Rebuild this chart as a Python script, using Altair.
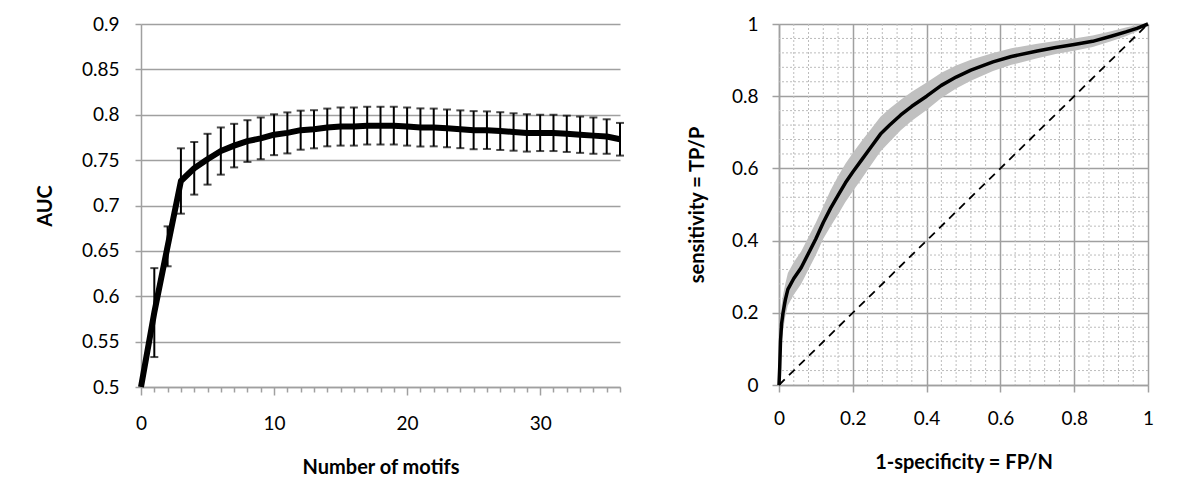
import altair as alt
import pandas as pd

# ---------------- data: left panel (AUC vs number of motifs) ----------------
motifs = list(range(0, 37))
auc_mean = [0.500, 0.582, 0.655, 0.727, 0.741, 0.751, 0.760, 0.766, 0.771, 0.774,
            0.778, 0.780, 0.783, 0.784, 0.786, 0.787, 0.787, 0.788, 0.788, 0.788,
            0.787, 0.786, 0.786, 0.785, 0.784, 0.783, 0.783, 0.782, 0.781, 0.780,
            0.780, 0.780, 0.779, 0.778, 0.777, 0.776, 0.773]
auc_err = [0.000, 0.049, 0.022, 0.036, 0.029, 0.028, 0.026, 0.024, 0.023, 0.023,
           0.0225, 0.0226, 0.0215, 0.021, 0.0208, 0.021, 0.021, 0.0208, 0.0208, 0.0208,
           0.021, 0.021, 0.0208, 0.0208, 0.0208, 0.021, 0.0207, 0.0208, 0.0206, 0.0206,
           0.020, 0.020, 0.020, 0.020, 0.020, 0.019, 0.018]
auc_y_ticks = [0.5, 0.55, 0.6, 0.65, 0.7, 0.75, 0.8, 0.85, 0.9]
motif_x_ticks = list(range(0, 37))

# ---------------- data: right panel (ROC curve) ----------------
roc_fpr = [0, 0.002, 0.004, 0.007, 0.011, 0.017, 0.024, 0.04, 0.06, 0.08, 0.10, 0.12,
           0.14, 0.16, 0.18, 0.20, 0.225, 0.25, 0.275, 0.30, 0.33, 0.36, 0.40, 0.44,
           0.48, 0.52, 0.58, 0.63, 0.70, 0.75, 0.80, 0.85, 0.90, 0.94, 0.97, 1.0]
roc_tpr = [0, 0.05, 0.12, 0.17, 0.20, 0.235, 0.265, 0.295, 0.325, 0.365, 0.405, 0.45,
           0.49, 0.525, 0.56, 0.59, 0.625, 0.66, 0.695, 0.72, 0.748, 0.772, 0.80, 0.83,
           0.853, 0.872, 0.895, 0.91, 0.925, 0.935, 0.943, 0.952, 0.966, 0.978, 0.988, 1.0]
roc_hi = [0, 0.08, 0.16, 0.22, 0.25, 0.28, 0.31, 0.34, 0.37, 0.41, 0.45, 0.495,
          0.54, 0.578, 0.613, 0.643, 0.677, 0.71, 0.743, 0.766, 0.79, 0.812, 0.838, 0.865,
          0.885, 0.901, 0.92, 0.933, 0.945, 0.953, 0.96, 0.968, 0.98, 0.99, 0.997, 1.0]
roc_lo = [0, 0.02, 0.08, 0.12, 0.15, 0.19, 0.22, 0.25, 0.28, 0.32, 0.36, 0.405,
          0.44, 0.472, 0.507, 0.537, 0.573, 0.61, 0.647, 0.674, 0.706, 0.732, 0.762, 0.795,
          0.821, 0.843, 0.87, 0.887, 0.905, 0.917, 0.926, 0.936, 0.952, 0.966, 0.979, 1.0]
diag_vals = [0, 1]
roc_ticks = [0, 0.2, 0.4, 0.6, 0.8, 1.0]
roc_minor = [0.04, 0.08, 0.12, 0.16, 0.24, 0.28, 0.32, 0.36, 0.44, 0.48, 0.52, 0.56,
             0.64, 0.68, 0.72, 0.76, 0.84, 0.88, 0.92, 0.96]

FONT = "Lato"
GRID = "#a0a0a0"
MINOR = "#bcbcbc"

# ---------------- left panel ----------------
auc_df = pd.DataFrame({"motifs": motifs, "auc": auc_mean, "err": auc_err})

x_left_scale = alt.Scale(domain=[0, 36], nice=False, zero=False)
y_left_scale = alt.Scale(domain=[0.5, 0.9], nice=False, zero=False)

x_left_axis = alt.Axis(
    values=motif_x_ticks,
    labelExpr="datum.value % 10 === 0 ? datum.label : ''",
    grid=False, labelFlush=False,
    title="Number of motifs",
    domainColor=GRID, domainWidth=1.5,
    tickColor=GRID, tickWidth=1.5,
    tickSize={"condition": {"test": "datum.value % 10 === 0", "value": 8}, "value": 5},
    labelPadding=19, titlePadding=24,
)
y_left_axis = alt.Axis(
    values=auc_y_ticks, format=".2~f", title="AUC",
    grid=True, gridColor=GRID, gridWidth=1.5, labelFlush=False,
    domainColor=GRID, domainWidth=1.5,
    tickColor=GRID, tickWidth=1.5, tickSize=6,
    labelPadding=16, titlePadding=26,
)

XL = alt.X("motifs:Q", scale=x_left_scale, axis=x_left_axis)

base_l = alt.Chart(auc_df)
err_base = base_l.transform_filter("datum.err > 0").transform_calculate(
    lo="datum.auc - datum.err", hi="datum.auc + datum.err"
)
auc_line = base_l.mark_line(color="black", strokeWidth=6, strokeJoin="round").encode(
    x=XL,
    y=alt.Y("auc:Q", scale=y_left_scale, axis=y_left_axis),
)
err_rules = err_base.mark_rule(color="black", strokeWidth=2).encode(
    x=XL,
    y=alt.Y("lo:Q", scale=y_left_scale, axis=y_left_axis),
    y2="hi:Q",
)
cap_lo = err_base.mark_tick(color="black", orient="horizontal", size=8, thickness=2).encode(
    x=XL,
    y=alt.Y("lo:Q", scale=y_left_scale, axis=y_left_axis),
)
cap_hi = err_base.mark_tick(color="black", orient="horizontal", size=8, thickness=2).encode(
    x=XL,
    y=alt.Y("hi:Q", scale=y_left_scale, axis=y_left_axis),
)
left = alt.layer(auc_line, err_rules, cap_lo, cap_hi).properties(width=479, height=363)

# ---------------- right panel ----------------
roc_df = pd.DataFrame({"fpr": roc_fpr, "tpr": roc_tpr, "lo": roc_lo, "hi": roc_hi})
diag_df = pd.DataFrame({"fpr": diag_vals, "tpr": diag_vals})
minor_df = pd.DataFrame({"fpr": roc_minor, "tpr": roc_minor})

xr = alt.Scale(domain=[0, 1], nice=False)
yr = alt.Scale(domain=[0, 1], nice=False)

x_right_axis = alt.Axis(
    values=roc_ticks, format=".1~f", title="1-specificity = FP/N",
    grid=True, gridColor=GRID, gridWidth=1.5, labelFlush=False,
    domainColor=GRID, domainWidth=1.5,
    tickColor=GRID, tickWidth=1.5, tickSize=7,
    labelPadding=17, titlePadding=24,
)
y_right_axis = alt.Axis(
    values=roc_ticks, format=".1~f", title="sensitivity = TP/P",
    grid=True, gridColor=GRID, gridWidth=1.5, labelFlush=False,
    domainColor=GRID, domainWidth=1.5,
    tickColor=GRID, tickWidth=1.5, tickSize=7,
    labelPadding=14, titlePadding=24,
)
XR = alt.X("fpr:Q", scale=xr, axis=x_right_axis)
YR = alt.Y("tpr:Q", scale=yr, axis=y_right_axis)

minor_v = alt.Chart(minor_df).mark_rule(color=MINOR, strokeWidth=1, strokeDash=[2, 2]).encode(x=XR)
minor_h = alt.Chart(minor_df).mark_rule(color=MINOR, strokeWidth=1, strokeDash=[2, 2]).encode(y=YR)
band = alt.Chart(roc_df).mark_area(color="#c0c0c0", opacity=1).encode(
    x=XR,
    y=alt.Y("lo:Q", scale=yr, axis=y_right_axis),
    y2="hi:Q",
)
diag = alt.Chart(diag_df).mark_line(color="black", strokeWidth=1.8, strokeDash=[8, 6]).encode(x=XR, y=YR)
roc_line = alt.Chart(roc_df).mark_line(color="black", strokeWidth=3.5, strokeJoin="round").encode(x=XR, y=YR)
right = alt.layer(minor_v, minor_h, band, diag, roc_line).properties(width=369, height=361)

chart = (
    alt.hconcat(left, right, spacing=63)
    .properties(padding={"left": 27, "top": 7, "right": 0, "bottom": 0}, background="white")
    .configure_view(stroke=None)
    .configure_axis(
        labelFont=FONT, labelFontSize=19, labelColor="black",
        titleFont=FONT, titleFontSize=20, titleFontWeight="bold", titleColor="black",
    )
)

chart.save("out.html", embed_options={"renderer": "svg", "actions": False})
